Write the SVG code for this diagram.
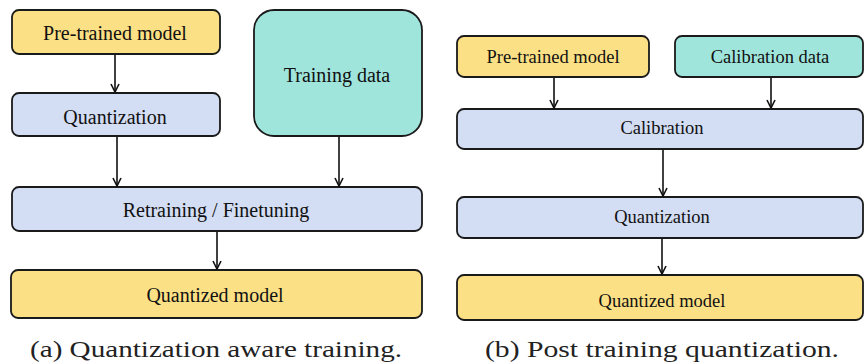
<svg xmlns="http://www.w3.org/2000/svg" width="865" height="364" viewBox="0 0 865 364">
<defs>
<marker id="arr" viewBox="0 0 10 10" refX="9" refY="5" markerWidth="10" markerHeight="10" markerUnits="userSpaceOnUse" orient="auto">
<path d="M1,1 L9,5 L1,9" fill="none" stroke="#111" stroke-width="1.6"/>
</marker>
</defs>
<style>
.box{stroke:#1a1a1a;stroke-width:1.8}
.y{fill:#fce085}
.b{fill:#d3ddf3}
.t{fill:#a0e5dc}
.lbl{font-family:'Liberation Serif','Times New Roman',serif;font-size:20px;fill:#111;text-anchor:middle;dominant-baseline:central}
.sm{font-size:18.5px}
.cap{font-family:'Liberation Serif','Times New Roman',serif;font-size:24px;fill:#222;text-anchor:middle}
.c{stroke:#111;stroke-width:1.6;fill:none;marker-end:url(#arr)}
</style>
<g id="a-pretrained"><rect class="box y" x="12" y="10" width="208" height="44" rx="7"/><text class="lbl" x="115" y="33">Pre-trained model</text></g>
<g id="a-quantization"><rect class="box b" x="12" y="93" width="208" height="43" rx="7"/><text class="lbl" x="115" y="117">Quantization</text></g>
<g id="a-trainingdata"><rect class="box t" x="254" y="10" width="168" height="126" rx="20"/><text class="lbl" x="337" y="75">Training data</text></g>
<g id="a-retraining"><rect class="box b" x="12" y="187" width="410" height="44" rx="7"/><text class="lbl" x="216" y="210">Retraining / Finetuning</text></g>
<g id="a-quantized"><rect class="box y" x="11" y="270" width="411" height="48" rx="7"/><text class="lbl" x="215" y="295">Quantized model</text></g>
<g id="b-pretrained"><rect class="box y" x="457" y="36" width="192" height="41" rx="7"/><text class="lbl sm" x="553" y="57">Pre-trained model</text></g>
<g id="b-calibdata"><rect class="box t" x="675" y="36" width="188" height="41" rx="7"/><text class="lbl sm" x="770" y="57">Calibration data</text></g>
<g id="b-calibration"><rect class="box b" x="457" y="109" width="406" height="40" rx="7"/><text class="lbl sm" x="662" y="128">Calibration</text></g>
<g id="b-quantization"><rect class="box b" x="457" y="197" width="406" height="41" rx="7"/><text class="lbl sm" x="662" y="217">Quantization</text></g>
<g id="b-quantized"><rect class="box y" x="457" y="275" width="406" height="45" rx="7"/><text class="lbl sm" x="662" y="301">Quantized model</text></g>
<g id="connectors">
<line class="c" x1="115" y1="55" x2="115" y2="92"/>
<line class="c" x1="117" y1="137" x2="117" y2="186"/>
<line class="c" x1="339" y1="137" x2="339" y2="186"/>
<line class="c" x1="217" y1="232" x2="217" y2="269"/>
<line class="c" x1="554" y1="78" x2="554" y2="108"/>
<line class="c" x1="771" y1="78" x2="771" y2="108"/>
<line class="c" x1="663" y1="150" x2="663" y2="196"/>
<line class="c" x1="662" y1="239" x2="662" y2="274"/>
</g>
<text class="cap" x="216" y="357" textLength="372" lengthAdjust="spacingAndGlyphs">(a) Quantization aware training.</text>
<text class="cap" x="662" y="357" textLength="354" lengthAdjust="spacingAndGlyphs">(b) Post training quantization.</text>
</svg>
